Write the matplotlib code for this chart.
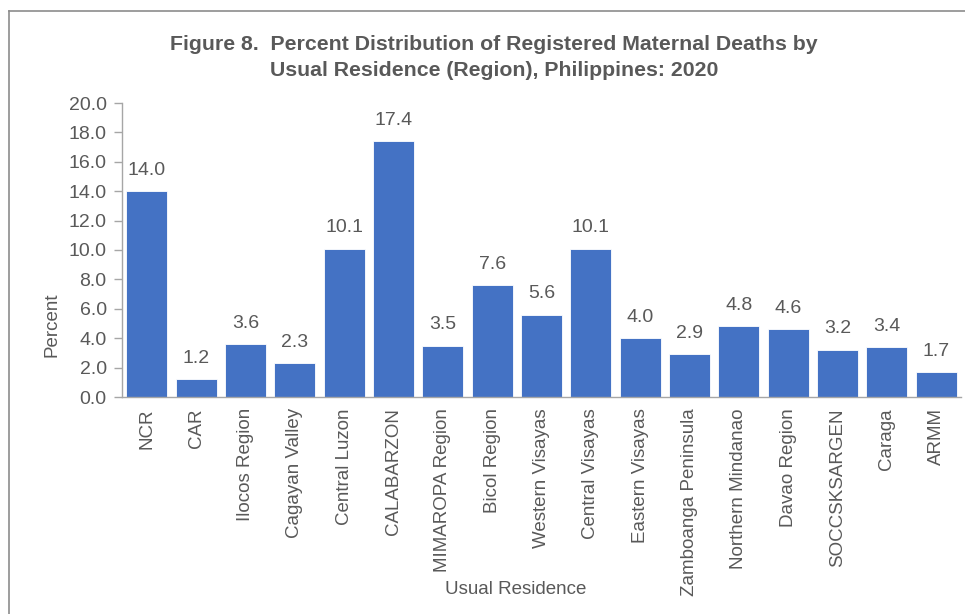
import matplotlib
matplotlib.use("Agg")
import matplotlib.pyplot as plt
from matplotlib.lines import Line2D

regions = ["NCR", "CAR", "Ilocos Region", "Cagayan Valley", "Central Luzon", "CALABARZON",
           "MIMAROPA Region", "Bicol Region", "Western Visayas", "Central Visayas",
           "Eastern Visayas", "Zamboanga Peninsula", "Northern Mindanao", "Davao Region",
           "SOCCSKSARGEN", "Caraga", "ARMM"]
percent = [14.0, 1.2, 3.6, 2.3, 10.1, 17.4, 3.5, 7.6, 5.6, 10.1, 4.0, 2.9, 4.8, 4.6, 3.2, 3.4, 1.7]
yticks = [0, 2, 4, 6, 8, 10, 12, 14, 16, 18, 20]

plt.rcParams['font.family'] = ['Liberation Sans', 'DejaVu Sans']
txt = '#595959'
W, H = 965, 614
fig = plt.figure(figsize=(W/100, H/100), dpi=100)
ax = fig.add_axes([122/W, 1-397/H, (961-122)/W, (397-103)/H])

x = range(len(regions))
bars = ax.bar(x, percent, width=0.83, color='#4472C4', edgecolor='#FFFFFF', linewidth=0.6)
for xi, v in zip(x, percent):
    ax.text(xi, v + 0.85, f"{v:.1f}", ha='center', va='bottom', fontsize=14, color=txt)

ax.set_xlim(-0.5, len(regions) - 0.5)
ax.set_ylim(0, 20)
ax.set_yticks(yticks)
ax.set_yticklabels([f"{t:.1f}" for t in yticks], fontsize=14, color=txt)
ax.set_xticks(list(x))
ax.set_xticklabels(regions, rotation=90, fontsize=13.5, color=txt)
ax.tick_params(axis='x', length=0, pad=8)
ax.tick_params(axis='y', length=6, color='#A6A6A6', width=1, pad=5)
for s in ['top', 'right']:
    ax.spines[s].set_visible(False)
for s in ['left', 'bottom']:
    ax.spines[s].set_color('#A6A6A6')
    ax.spines[s].set_linewidth(1)

fig.text(52/W, 1-325/H, "Percent", rotation=90, ha='center', va='center', fontsize=13.5, color=txt)
fig.text(516/W, 1-590/H, "Usual Residence", ha='center', va='center', fontsize=13.5, color=txt)
fig.text(494/W, 1-45/H, "Figure 8.  Percent Distribution of Registered Maternal Deaths by",
         ha='center', va='center', fontsize=15.3, fontweight='bold', color=txt)
fig.text(494/W, 1-70/H, "Usual Residence (Region), Philippines: 2020",
         ha='center', va='center', fontsize=15.3, fontweight='bold', color=txt)

fig.add_artist(Line2D([9/W, 9/W], [0, 1-11/H], transform=fig.transFigure, color='#8C8C8C', lw=1.2))
fig.add_artist(Line2D([9/W, 1], [1-11/H, 1-11/H], transform=fig.transFigure, color='#8C8C8C', lw=1.2))

fig.savefig("out.png", dpi=100)
